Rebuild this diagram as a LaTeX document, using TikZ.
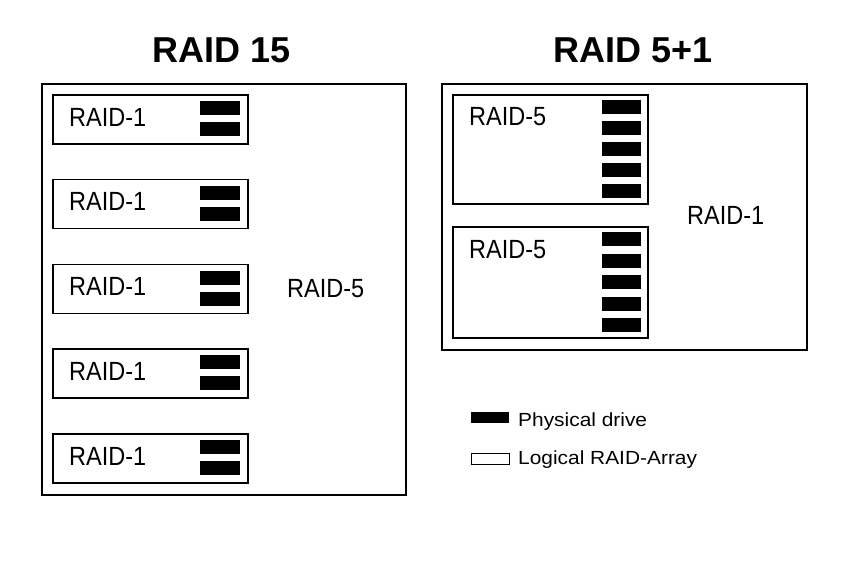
\documentclass[tikz,border=0pt]{standalone}
\usepackage{fontspec}
\setmainfont{Liberation Sans}
\usepackage{graphicx}
\begin{document}
\begin{tikzpicture}[x=1pt,y=-1pt,
  outer/.style={draw, line width=2pt, anchor=north west, inner sep=0pt},
  arraybox/.style={draw, line width=1.7pt, anchor=north west, inner sep=0pt, minimum width=195pt},
  drive/.style={fill=black, anchor=north west, inner sep=0pt, minimum width=40pt, minimum height=14pt},
  lbl/.style={anchor=base west, inner sep=0pt, font=\fontsize{23.5}{24}\selectfont},
  leg/.style={anchor=base west, inner sep=0pt, font=\fontsize{19}{20}\selectfont},
  title/.style={anchor=base, inner sep=0pt, font=\fontsize{36}{36}\selectfont\bfseries}]
\path[fill=white] (0,0) rectangle (850,570);
\useasboundingbox (0,0) rectangle (850,570);

% titles
\node[title] (t1) at (222,62) {RAID 15};
\node[title] (t2) at (633,62) {RAID 5+1};

% left panel
\node[outer, minimum width=364pt, minimum height=411pt] (L) at (41,83) {};
\foreach \i in {0,...,4} {
  \pgfmathsetmacro\yy{94+84.75*\i}
  \node[arraybox, minimum height=49pt] (a\i) at (52,\yy) {};
  \node[drive] (a\i-d1) at (200,\yy+7) {};
  \node[drive] (a\i-d2) at (200,\yy+28) {};
  \node[lbl] (a\i-t) at (69,\yy+32) {\scalebox{1}[1.12]{RAID-1}};
}
\node[lbl] (L-t) at (287,297) {\scalebox{1}[1.12]{RAID-5}};

% right panel
\node[outer, minimum width=365pt, minimum height=266pt] (R) at (441,83) {};
\node[arraybox, minimum height=109pt] (b1) at (452,94) {};
\node[arraybox, minimum height=111pt] (b2) at (452,226) {};
\foreach \j in {0,...,4} {
  \node[drive, minimum width=39pt] (b1-d\j) at (602,100+21*\j) {};
  \node[drive, minimum width=39pt] (b2-d\j) at (602,232+21.5*\j) {};
}
\node[lbl] (b1-t) at (469,125) {\scalebox{1}[1.12]{RAID-5}};
\node[lbl] (b2-t) at (469,258) {\scalebox{1}[1.12]{RAID-5}};
\node[lbl] (R-t) at (687,224) {\scalebox{1}[1.12]{RAID-1}};

% legend
\node[drive, minimum width=38pt, minimum height=11pt] (ld) at (471,412) {};
\node[leg] (ld-t) at (518,426) {\scalebox{1.1}[1]{Physical drive}};
\node[draw, line width=1pt, anchor=north west, inner sep=0pt, minimum width=38pt, minimum height=11pt] (lr) at (471,453) {};
\node[leg] (lr-t) at (518,464) {\scalebox{1.1}[1]{Logical RAID-Array}};
\end{tikzpicture}
\end{document}
